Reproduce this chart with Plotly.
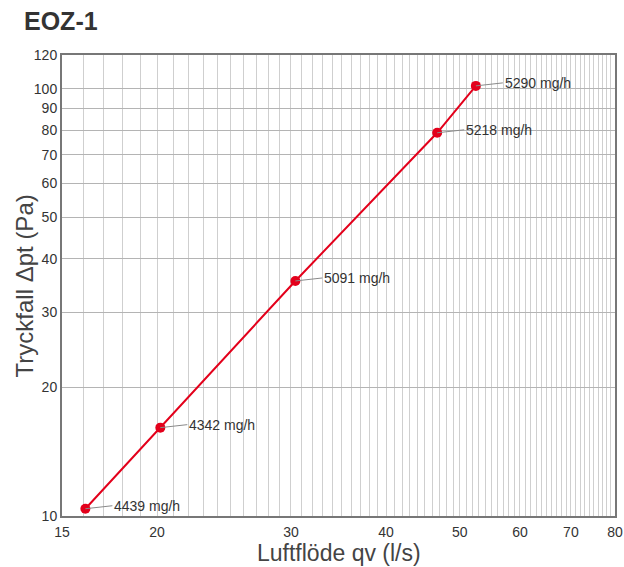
import plotly.graph_objects as go
import math

flow = [16.1, 20.2, 30.4, 46.7, 52.5]
pressure = [10.4, 16.1, 35.5, 78.9, 101.6]
labels = ["4439 mg/h", "4342 mg/h", "5091 mg/h", "5218 mg/h", "5290 mg/h"]

x_grid = list(range(15, 81))
x_labels = [15, 20, 30, 40, 50, 60, 70, 80]
y_ticks = [10, 20, 30, 40, 50, 60, 70, 80, 90, 100, 120]

FONT = "Liberation Sans, Arial, Helvetica, sans-serif"

fig = go.Figure()
fig.add_trace(go.Scatter(
    x=flow, y=pressure, mode="lines+markers",
    line=dict(color="#e3001b", width=2),
    marker=dict(color="#e3001b", size=10),
    showlegend=False, hoverinfo="skip",
))

for xv, yv, t in zip(flow, pressure, labels):
    fig.add_annotation(
        x=math.log10(xv), y=math.log10(yv), text=t,
        showarrow=True, arrowhead=0, arrowwidth=1, arrowcolor="#8a8a8a",
        ax=27, ay=-3, xanchor="left", yanchor="middle",
        font=dict(family=FONT, size=14, color="#333333"),
    )

fig.add_annotation(
    text="<b>EOZ-1</b>", xref="paper", yref="paper", x=-0.0723, y=1.074,
    xanchor="left", yanchor="middle", showarrow=False,
    font=dict(family=FONT, size=25, color="#333333"),
)
fig.add_annotation(
    text="Tryckfall Δpt (Pa)", xref="paper", yref="paper", x=-0.067, y=0.5,
    xanchor="center", yanchor="middle", textangle=-90, showarrow=False,
    font=dict(family=FONT, size=24, color="#444444"),
)
fig.add_annotation(
    text="Luftflöde qv (l/s)", xref="paper", yref="paper", x=0.5, y=-0.081,
    xanchor="center", yanchor="middle", showarrow=False, borderpad=0,
    font=dict(family=FONT, size=23, color="#444444"),
)

fig.update_xaxes(
    type="log", range=[math.log10(15), math.log10(80)],
    tickvals=x_grid,
    ticktext=[str(v) if v in x_labels else "" for v in x_grid],
    showgrid=True, gridcolor="#cfcfcf", gridwidth=1,
    showline=True, linecolor="#777777", linewidth=2, mirror=True,
    ticks="outside", ticklen=2, tickcolor="rgba(0,0,0,0)",
    ticklabeloverflow="allow",
    tickfont=dict(family=FONT, size=14, color="#333333"),
    zeroline=False,
)
fig.update_yaxes(
    type="log", range=[1, math.log10(120)],
    tickvals=y_ticks, ticktext=[str(v) for v in y_ticks],
    showgrid=True, gridcolor="#b4b4b4", gridwidth=1,
    showline=True, linecolor="#777777", linewidth=2, mirror=True,
    ticks="", ticklen=0,
    tickfont=dict(family=FONT, size=14, color="#333333"),
    zeroline=False,
)

fig.update_layout(
    width=624, height=567,
    margin=dict(l=62, r=9, t=55, b=51, autoexpand=False),
    paper_bgcolor="white", plot_bgcolor="white",
)

fig.write_html(
    "out.html",
    config={"displayModeBar": False},
    post_script="document.body.style.margin='0';document.body.style.overflow='hidden';",
)
